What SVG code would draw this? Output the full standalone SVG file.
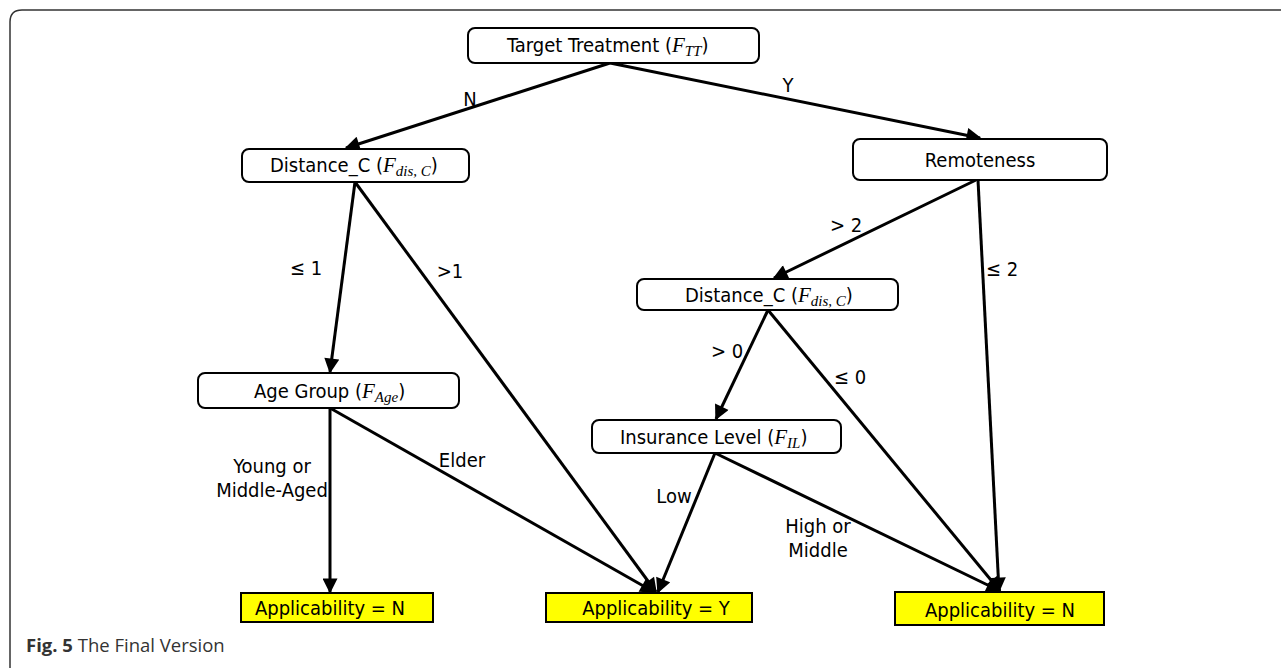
<svg xmlns="http://www.w3.org/2000/svg" width="1281" height="668" viewBox="0 0 1281 668">
<style>
.node rect{fill:#fff;stroke:#000;stroke-width:2}
.leaf rect{fill:#ffff00;stroke:#000;stroke-width:2}
text{font-family:"DejaVu Sans Condensed","DejaVu Sans","Liberation Sans",sans-serif;font-size:20px;fill:#000}
.t{text-anchor:middle}
.f{font-family:"Liberation Serif",serif;font-style:italic;font-size:21px}
.s{font-family:"Liberation Serif",serif;font-style:italic;font-size:15px}
#connectors line{stroke:#000;stroke-width:3}
.cap{font-family:"Open Sans","Noto Sans",sans-serif;font-size:18.5px;fill:#333}
</style>
<defs>
<marker id="ah" viewBox="0 0 10 10" refX="9" refY="5" markerWidth="5.5" markerHeight="5" orient="auto" markerUnits="strokeWidth">
<path d="M0,0 L10,5 L0,10 z" fill="#000"/>
</marker>
</defs>
<rect width="1281" height="668" fill="#fff"/>
<path d="M10,668 V22 Q10,10 22,10 H1281" fill="none" stroke="#333" stroke-width="1.5"/>

<g id="connectors">
<line x1="610" y1="63" x2="346" y2="148" marker-end="url(#ah)"/>
<line x1="610" y1="63" x2="980" y2="138" marker-end="url(#ah)"/>
<line x1="355" y1="182" x2="330" y2="372" marker-end="url(#ah)"/>
<line x1="355" y1="182" x2="656" y2="592" marker-end="url(#ah)"/>
<line x1="976" y1="180" x2="774" y2="278" marker-end="url(#ah)"/>
<line x1="978" y1="180" x2="999" y2="591" marker-end="url(#ah)"/>
<line x1="768" y1="310" x2="716" y2="419" marker-end="url(#ah)"/>
<line x1="768" y1="310" x2="1000" y2="591" marker-end="url(#ah)"/>
<line x1="330" y1="408" x2="330" y2="592" marker-end="url(#ah)"/>
<line x1="330" y1="408" x2="654" y2="592" marker-end="url(#ah)"/>
<line x1="715" y1="453" x2="658" y2="592" marker-end="url(#ah)"/>
<line x1="715" y1="453" x2="1000" y2="591" marker-end="url(#ah)"/>
<text x="470" y="106" class="t">N</text>
<text x="788" y="92" class="t">Y</text>
<text x="306" y="275" class="t">≤ 1</text>
<text x="450" y="278" class="t">&gt;1</text>
<text x="846" y="232" class="t">&gt; 2</text>
<text x="1002" y="276" class="t">≤ 2</text>
<text x="727" y="358" class="t">&gt; 0</text>
<text x="850" y="384" class="t">≤ 0</text>
<text x="462" y="467" class="t">Elder</text>
<text x="272" y="473" class="t">Young or</text>
<text x="272" y="497" class="t">Middle-Aged</text>
<text x="674" y="503" class="t">Low</text>
<text x="818" y="533" class="t">High or</text>
<text x="818" y="557" class="t">Middle</text>
</g>

<g id="n-target" class="node">
<rect x="468" y="28" width="291" height="35" rx="7"/>
<text x="507" y="52">Target Treatment (<tspan class="f">F</tspan><tspan class="s" dy="4">TT</tspan><tspan dy="-4">)</tspan></text>
</g>
<g id="n-dist1" class="node">
<rect x="242" y="149" width="227" height="33" rx="7"/>
<text x="270" y="172">Distance_C (<tspan class="f">F</tspan><tspan class="s" dy="4">dis, C</tspan><tspan dy="-4">)</tspan></text>
</g>
<g id="n-remote" class="node">
<rect x="853" y="139" width="254" height="41" rx="7"/>
<text x="980" y="167" class="t">Remoteness</text>
</g>
<g id="n-dist2" class="node">
<rect x="637" y="279" width="261" height="31" rx="7"/>
<text x="685" y="302">Distance_C (<tspan class="f">F</tspan><tspan class="s" dy="4">dis, C</tspan><tspan dy="-4">)</tspan></text>
</g>
<g id="n-age" class="node">
<rect x="198" y="373" width="261" height="35" rx="7"/>
<text x="254" y="398">Age Group (<tspan class="f">F</tspan><tspan class="s" dy="4">Age</tspan><tspan dy="-4">)</tspan></text>
</g>
<g id="n-ins" class="node">
<rect x="592" y="420" width="249" height="33" rx="7"/>
<text x="620" y="444">Insurance Level (<tspan class="f">F</tspan><tspan class="s" dy="4">IL</tspan><tspan dy="-4">)</tspan></text>
</g>
<g id="leaf-n1" class="leaf">
<rect x="241" y="593" width="192" height="29"/>
<text x="330" y="615" class="t">Applicability = N</text>
</g>
<g id="leaf-y" class="leaf">
<rect x="546" y="593" width="206" height="29"/>
<text x="656" y="615" class="t">Applicability = Y</text>
</g>
<g id="leaf-n2" class="leaf">
<rect x="895" y="592" width="209" height="33"/>
<text x="1000" y="617" class="t">Applicability = N</text>
</g>
<text x="26" y="652" class="cap"><tspan font-weight="bold">Fig. 5</tspan> The Final Version</text>
</svg>
